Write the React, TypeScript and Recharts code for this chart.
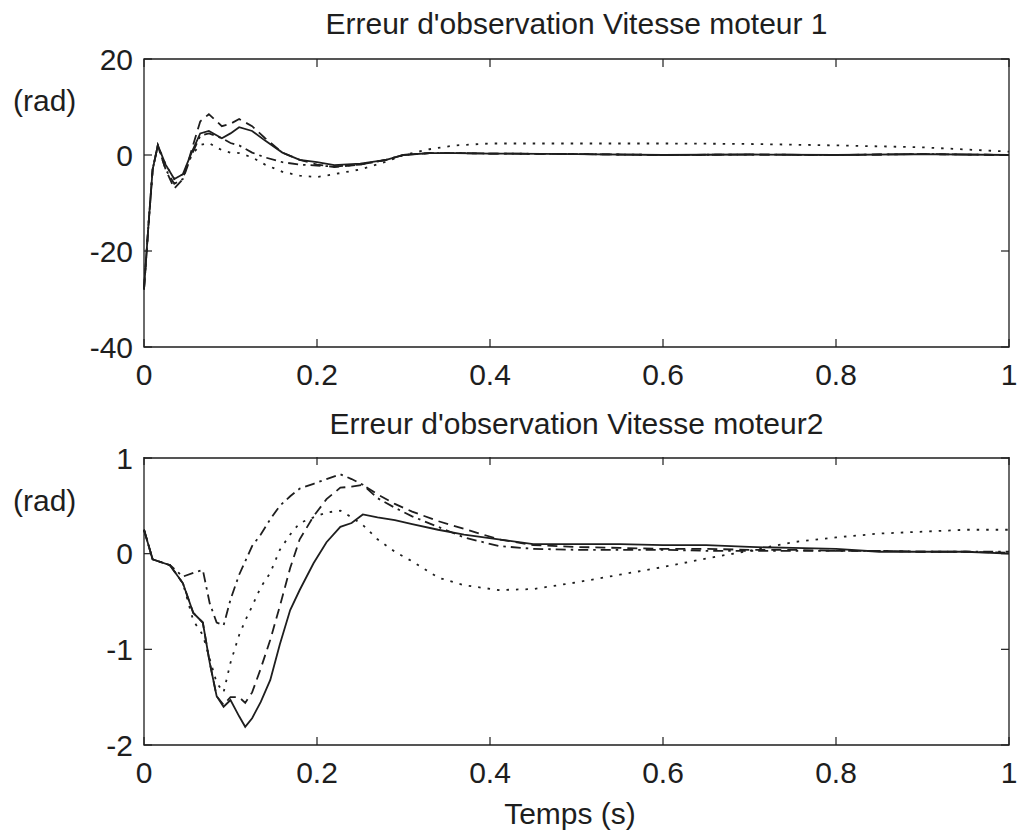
import React from "react";
import { LineChart, Line, XAxis, YAxis, ReferenceArea } from "recharts";

// ---------- Data ----------
const X_TICKS = [0, 0.2, 0.4, 0.6, 0.8, 1];
const TOP_Y_TICKS = [-40, -20, 0, 20];
const BOT_Y_TICKS = [-2, -1, 0, 1];

const TOP_TITLE = "Erreur d'observation Vitesse moteur 1";
const BOT_TITLE = "Erreur d'observation Vitesse moteur2";
const Y_LABEL = "(rad)";
const X_LABEL = "Temps (s)";

const TOP_X = [0, 0.005, 0.01, 0.016, 0.025, 0.035, 0.045, 0.055, 0.065, 0.075, 0.09, 0.1, 0.11, 0.125, 0.14, 0.16, 0.18, 0.2, 0.22, 0.25, 0.28, 0.3, 0.33, 0.36, 0.4, 0.5, 0.6, 0.7, 0.8, 0.9, 1.0];
const TOP_SOLID = [-28, -15, -3, 2, -2, -5, -4, 0.5, 4.5, 5, 3.5, 4.5, 5.8, 5, 3, 0.5, -1, -1.5, -2.1, -1.8, -1, 0, 0.4, 0.4, 0.3, 0.2, 0, 0.1, 0, 0.2, 0];
const TOP_DASHED = [-28, -15, -3, 2, -3, -7, -5, 1, 7, 8.5, 6, 6.5, 7.5, 6, 3.5, 0.5, -1, -2, -2.5, -2, -1, 0, 0.4, 0.4, 0.3, 0.2, 0, 0.1, 0, 0.2, 0];
const TOP_DASHDOT = [-28, -15, -3, 2, -3, -6, -5, 0, 4, 4.5, 3.5, 2.5, 2, 0.5, -0.5, -1.5, -2, -2.2, -2.4, -2, -1, 0, 0.4, 0.4, 0.3, 0.2, 0, 0.1, 0, 0.2, 0];
const TOP_DOTTED = [-28, -15, -3, 2, -2, -5, -4, 0, 2.1, 2.5, 1, 0.5, 0.4, -0.5, -2, -3.5, -4.3, -4.6, -4, -3, -1.4, 0, 1.2, 2, 2.4, 2.4, 2.4, 2.3, 2, 1.6, 0.7];

const BOT_X = [0, 0.01, 0.03, 0.045, 0.057, 0.068, 0.076, 0.084, 0.092, 0.1, 0.11, 0.117, 0.125, 0.135, 0.146, 0.157, 0.169, 0.18, 0.196, 0.211, 0.227, 0.24, 0.253, 0.27, 0.29, 0.31, 0.34, 0.37, 0.41, 0.45, 0.5, 0.55, 0.6, 0.65, 0.7, 0.75, 0.8, 0.85, 0.9, 0.95, 1.0];
const BOT_SOLID = [0.25, -0.06, -0.12, -0.31, -0.62, -0.72, -1.14, -1.49, -1.6, -1.53, -1.7, -1.81, -1.72, -1.55, -1.32, -0.95, -0.59, -0.38, -0.1, 0.12, 0.28, 0.32, 0.41, 0.38, 0.35, 0.31, 0.25, 0.2, 0.15, 0.1, 0.1, 0.1, 0.09, 0.09, 0.07, 0.06, 0.05, 0.02, 0.02, 0.02, 0.0];
const BOT_DASHED = [0.25, -0.06, -0.12, -0.31, -0.62, -0.72, -1.14, -1.49, -1.58, -1.5, -1.5, -1.56, -1.45, -1.2, -0.9, -0.55, -0.15, 0.15, 0.39, 0.57, 0.69, 0.7, 0.72, 0.62, 0.52, 0.44, 0.34, 0.26, 0.15, 0.09, 0.07, 0.06, 0.05, 0.05, 0.04, 0.04, 0.03, 0.03, 0.02, 0.02, 0.01];
const BOT_DASHDOT = [0.25, -0.06, -0.12, -0.24, -0.2, -0.17, -0.52, -0.72, -0.75, -0.48, -0.22, -0.08, 0.08, 0.2, 0.36, 0.5, 0.6, 0.68, 0.73, 0.78, 0.83, 0.78, 0.72, 0.58, 0.48, 0.39, 0.28, 0.17, 0.08, 0.05, 0.04, 0.04, 0.04, 0.03, 0.03, 0.03, 0.03, 0.03, 0.02, 0.02, 0.02];
const BOT_DOTTED = [0.25, -0.06, -0.12, -0.31, -0.7, -0.85, -1.1, -1.35, -1.45, -1.14, -0.85, -0.7, -0.55, -0.35, -0.2, 0.04, 0.2, 0.32, 0.38, 0.43, 0.45, 0.38, 0.3, 0.15, 0.02, -0.08, -0.25, -0.33, -0.38, -0.37, -0.3, -0.22, -0.14, -0.05, 0.03, 0.12, 0.17, 0.21, 0.23, 0.25, 0.25];

// ---------- Build tables ----------
const topRows = TOP_X.map((x, i) => ({ x, s: TOP_SOLID[i], d: TOP_DASHED[i], dd: TOP_DASHDOT[i], o: TOP_DOTTED[i] }));
const botRows = BOT_X.map((x, i) => ({ x, s: BOT_SOLID[i], d: BOT_DASHED[i], dd: BOT_DASHDOT[i], o: BOT_DOTTED[i] }));

// ---------- Styles ----------
const FONT = "'Liberation Sans', Arial, Helvetica, sans-serif";
const INK = "#1e1e1e";
const FS = 30;
const TICK_LEN = 8;
const PLOT_W = 865;
const PLOT_H = 288;
const LW = 1.8;

function makeXTick(plotH: number) {
  return (props: any) => {
    const { x, y, payload } = props;
    return (
      <g>
        <line x1={x} y1={y} x2={x} y2={y - TICK_LEN} stroke={INK} strokeWidth={1.2} />
        <line x1={x} y1={y - plotH} x2={x} y2={y - plotH + TICK_LEN} stroke={INK} strokeWidth={1.2} />
        <text x={x} y={y + 38} textAnchor="middle" fontSize={FS} fontFamily={FONT} fill={INK}>
          {String(payload.value)}
        </text>
      </g>
    );
  };
}

function makeYTick(plotW: number) {
  return (props: any) => {
    const { x, y, payload } = props;
    return (
      <g>
        <line x1={x} y1={y} x2={x + TICK_LEN} y2={y} stroke={INK} strokeWidth={1.2} />
        <line x1={x + plotW} y1={y} x2={x + plotW - TICK_LEN} y2={y} stroke={INK} strokeWidth={1.2} />
        <text x={x - 11} y={y} dy="0.36em" textAnchor="end" fontSize={FS} fontFamily={FONT} fill={INK}>
          {String(payload.value)}
        </text>
      </g>
    );
  };
}

function Series() {
  return null;
}

function Panel(props: { rows: any[]; yTicks: number[]; height: number; margin: any }) {
  const { rows, yTicks, height, margin } = props;
  const yMin = yTicks[0];
  const yMax = yTicks[yTicks.length - 1];
  return (
    <LineChart width={1019} height={height} data={rows} margin={margin}>
      <XAxis
        dataKey="x"
        type="number"
        domain={[0, 1]}
        ticks={X_TICKS}
        axisLine={false}
        tickLine={false}
        tickSize={0}
        tickMargin={0}
        height={30}
        interval={0}
        tick={makeXTick(PLOT_H)}
      />
      <YAxis
        type="number"
        domain={[yMin, yMax]}
        ticks={yTicks}
        axisLine={false}
        tickLine={false}
        tickSize={0}
        tickMargin={0}
        width={144}
        interval={0}
        tick={makeYTick(PLOT_W)}
      />
      <ReferenceArea x1={0} x2={1} y1={yMin} y2={yMax} fill="none" stroke={INK} strokeWidth={1.3} />
      <Line type="linear" dataKey="o" stroke={INK} strokeWidth={LW} strokeDasharray="2.5 7" dot={false} isAnimationActive={false} />
      <Line type="linear" dataKey="dd" stroke={INK} strokeWidth={LW} strokeDasharray="10 5 2.5 5" dot={false} isAnimationActive={false} />
      <Line type="linear" dataKey="d" stroke={INK} strokeWidth={LW} strokeDasharray="10 6" dot={false} isAnimationActive={false} />
      <Line type="linear" dataKey="s" stroke={INK} strokeWidth={LW} dot={false} isAnimationActive={false} />
    </LineChart>
  );
}

const textStyle: React.CSSProperties = {
  position: "absolute",
  fontFamily: FONT,
  fontSize: FS,
  lineHeight: "30px",
  color: INK,
  whiteSpace: "nowrap",
};

export default function App() {
  return (
    <div style={{ position: "absolute", left: 0, top: 0, width: 1019, height: 832, background: "#fff", overflow: "hidden" }}>
      <div style={{ position: "absolute", left: 0, top: 0 }}>
        <Panel rows={topRows} yTicks={TOP_Y_TICKS} height={400} margin={{ top: 59, right: 10, bottom: 23, left: 0 }} />
      </div>
      <div style={{ position: "absolute", left: 0, top: 400 }}>
        <Panel rows={botRows} yTicks={BOT_Y_TICKS} height={432} margin={{ top: 58, right: 10, bottom: 57, left: 0 }} />
      </div>
      <div style={{ ...textStyle, left: 144, width: 865, textAlign: "center", top: 9 }}>{TOP_TITLE}</div>
      <div style={{ ...textStyle, left: 144, width: 865, textAlign: "center", top: 409 }}>{BOT_TITLE}</div>
      <div style={{ ...textStyle, left: 13, top: 86 }}>{Y_LABEL}</div>
      <div style={{ ...textStyle, left: 13, top: 486 }}>{Y_LABEL}</div>
      <div style={{ ...textStyle, left: 144, width: 852, textAlign: "center", top: 799 }}>{X_LABEL}</div>
    </div>
  );
}
